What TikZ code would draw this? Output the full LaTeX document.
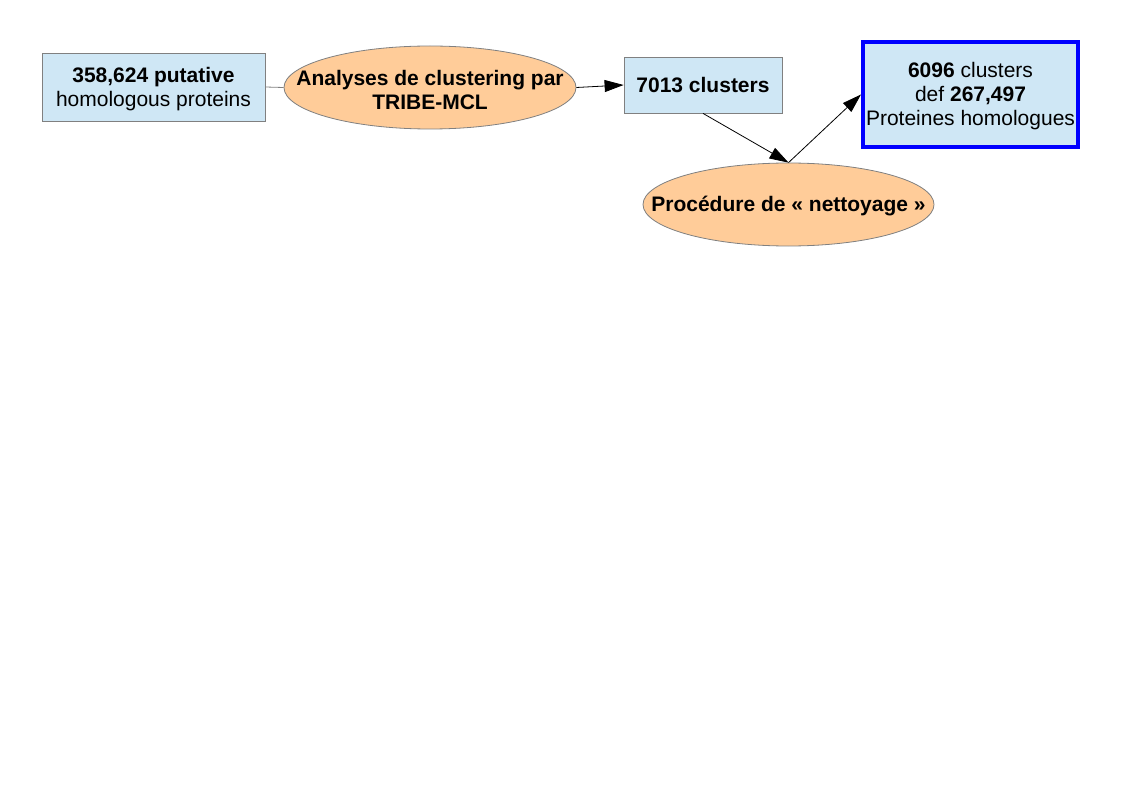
\documentclass[tikz,border=0pt]{standalone}
\usepackage{fontspec}
\setmainfont{Liberation Sans}
\usetikzlibrary{shapes.geometric,arrows.meta}
\definecolor{boxblue}{HTML}{CFE7F5}
\definecolor{ellorange}{HTML}{FFCC99}
\definecolor{edgegray}{HTML}{808080}
\begin{document}
\begin{tikzpicture}[x=1pt,y=-1pt,
  every node/.style={font=\fontsize{21}{24}\selectfont, align=center, inner sep=0pt},
  bluebox/.style={draw=edgegray, fill=boxblue, line width=0.8pt, rectangle},
  orangeell/.style={draw=edgegray, fill=ellorange, line width=0.8pt, ellipse},
  lbl/.style={yshift=-2pt},
  arr/.style={draw=black, line width=0.8pt, -{Triangle[length=19pt,width=12pt]}}]
\useasboundingbox (0,0) rectangle (1123,794);
\fill[white] (0,0) rectangle (1123,794);
\node[bluebox, minimum width=223pt, minimum height=68pt] (b1) at (153.5,87) {};
\node[lbl] (t1) at (b1) {\textbf{358,624 putative}\\homologous proteins};
\node[orangeell, minimum width=292pt, minimum height=83pt] (e1) at (430,87.5) {};
\node[lbl] (t2) at (e1) {\textbf{Analyses de clustering par}\\\textbf{TRIBE-MCL}};
\node[bluebox, minimum width=158pt, minimum height=56pt] (b2) at (703,85) {\textbf{7013 clusters}};
\node[orangeell, minimum width=291pt, minimum height=83pt] (e2) at (788.5,204.5) {};
\node[lbl] (t4) at (e2) {\textbf{Procédure de « nettoyage »}};
\node[draw=blue, fill=boxblue, line width=4pt, minimum width=215pt, minimum height=105pt] (b3) at (970.5,94.5) {};
\node[lbl] (t5) at (b3) {\textbf{6096} clusters\\def \textbf{267,497}\\Proteines homologues};
\draw[edgegray, line width=0.8pt] (b1.east) -- (e1.west);
\draw[arr] (e1.east) -- (b2.west);
\draw[arr] (b2.south) -- (e2.north);
\draw[arr] (e2.north) -- (b3.west);
\end{tikzpicture}
\end{document}
